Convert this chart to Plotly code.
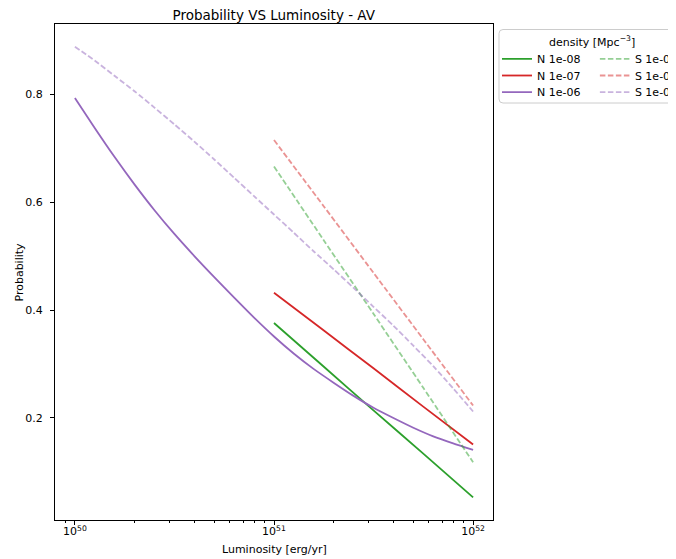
import plotly.graph_objects as go

# ---------------- data ----------------
lum_wide = [1.00e50, 1.26e50, 1.58e50, 2.00e50, 2.51e50, 3.16e50, 3.98e50, 5.01e50, 6.31e50, 7.94e50,
            1.00e51, 1.26e51, 1.58e51, 2.00e51, 2.51e51, 3.16e51, 3.98e51, 5.01e51, 6.31e51, 7.94e51,
            1.00e52]
lum_narrow = [1.00e51, 1.78e51, 3.16e51, 5.62e51, 1.00e52]

n_1e08 = [0.376, 0.295, 0.214, 0.134, 0.053]
n_1e07 = [0.432, 0.362, 0.292, 0.221, 0.151]
n_1e06 = [0.793, 0.737, 0.684, 0.632, 0.585, 0.541, 0.500, 0.461, 0.423, 0.386,
          0.351, 0.319, 0.291, 0.265, 0.241, 0.219, 0.200, 0.182, 0.166, 0.153, 0.141]

s_1e08 = [0.666, 0.529, 0.393, 0.256, 0.118]
s_1e07 = [0.715, 0.592, 0.469, 0.346, 0.223]
s_1e06 = [0.888, 0.862, 0.834, 0.805, 0.775, 0.744, 0.712, 0.679, 0.645, 0.611,
          0.577, 0.543, 0.509, 0.475, 0.441, 0.406, 0.371, 0.334, 0.296, 0.255, 0.212]

x_major = [1e50, 1e51, 1e52]
x_major_text = ["10<sup>50</sup>", "10<sup>51</sup>", "10<sup>52</sup>"]
x_minor = [9e49, 2e50, 3e50, 4e50, 5e50, 6e50, 7e50, 8e50, 9e50,
           2e51, 3e51, 4e51, 5e51, 6e51, 7e51, 8e51, 9e51]
y_ticks = [0.2, 0.4, 0.6, 0.8]

GREEN = "#2ca02c"
RED = "#d62728"
PURPLE = "#9467bd"
GREEN_A = "rgba(44,160,44,0.5)"
RED_A = "rgba(214,39,40,0.5)"
PURPLE_A = "rgba(148,103,189,0.5)"

FONT = "DejaVu Sans"
LW = 1.8
DASH = "5.5px,2.5px"

# ---------------- geometry (page body has an 8px margin) ----------------
W, H = 668, 551
L, R, T, B = 46.5, 485, 16, 512
pw, ph = R - L, B - T


def px_x(p):
    return (p - L) / pw


def px_y(p):
    return 1 - (p - T) / ph


fig = go.Figure()

# (name, x, y, colour, dash, legend id, legend left px, row centre px)
series = [
    ("N 1e-08", lum_narrow, n_1e08, GREEN, None, "legend", 489, 51.3),
    ("N 1e-07", lum_narrow, n_1e07, RED, None, "legend2", 489, 68.0),
    ("N 1e-06", lum_wide, n_1e06, PURPLE, None, "legend3", 489, 84.7),
    ("S 1e-08", lum_narrow, s_1e08, GREEN_A, DASH, "legend4", 587, 51.3),
    ("S 1e-07", lum_narrow, s_1e07, RED_A, DASH, "legend5", 587, 68.0),
    ("S 1e-06", lum_wide, s_1e06, PURPLE_A, DASH, "legend6", 587, 84.7),
]

legend_layouts = {}
for name, xs, ys, col, dash, leg, lx, rowy in series:
    fig.add_trace(go.Scatter(
        x=xs, y=ys, mode="lines", name=name, legend=leg,
        line=dict(color=col, width=LW, dash=dash, shape="spline", smoothing=0.6),
    ))
    legend_layouts[leg] = dict(
        x=px_x(lx), y=px_y(rowy - 15), xanchor="left", yanchor="top",
        bgcolor="rgba(0,0,0,0)", borderwidth=0,
        font=dict(size=11, color="black"), tracegroupgap=0,
    )

# legend frame (rounded rectangle) in paper coords
x0, x1 = px_x(491), px_x(720)
y0, y1 = px_y(21.5), px_y(95)
rx, ry = 4 / pw, 4 / ph
frame_path = (f"M {x0+rx},{y0} L {x1},{y0} L {x1},{y1} L {x0+rx},{y1} "
              f"Q {x0},{y1} {x0},{y1+ry} L {x0},{y0-ry} Q {x0},{y0} {x0+rx},{y0} Z")

fig.update_layout(
    width=W, height=H,
    margin=dict(l=L, r=W - R, t=T, b=H - B, autoexpand=False),
    paper_bgcolor="white", plot_bgcolor="white",
    font=dict(family=FONT, size=11, color="black"),
    title=dict(text="Probability VS Luminosity - AV", x=(L + pw / 2) / W, xanchor="center",
               y=1 - 7 / H, yanchor="middle", font=dict(size=13.5, color="black")),
    showlegend=True,
    shapes=[dict(type="path", xref="paper", yref="paper", path=frame_path,
                 line=dict(color="#cccccc", width=1), fillcolor="rgba(255,255,255,0.8)",
                 layer="below")],
    annotations=[
        dict(text="density [Mpc<sup>−3</sup>]", xref="paper", yref="paper",
             x=px_x(584), y=px_y(33.7), xanchor="center", yanchor="middle",
             showarrow=False, font=dict(size=11, color="black")),
        dict(text="Luminosity [erg/yr]", xref="paper", yref="paper",
             x=0.5, y=px_y(541), xanchor="center", yanchor="middle",
             showarrow=False, font=dict(size=11, color="black")),
        dict(text="Probability", xref="paper", yref="paper", textangle=-90,
             x=px_x(10), y=0.5, xanchor="center", yanchor="middle",
             showarrow=False, font=dict(size=11, color="black")),
    ],
    **legend_layouts,
)

fig.update_xaxes(
    type="log", range=[49.9, 52.1],
    tickvals=x_major, ticktext=x_major_text,
    showgrid=False, zeroline=False,
    showline=True, linecolor="black", linewidth=1, mirror=True,
    ticks="outside", ticklen=4, tickwidth=1, tickcolor="black",
    ticklabelstandoff=-3,
    tickfont=dict(size=11, color="black"),
    minor=dict(tickvals=x_minor, ticks="outside", ticklen=2, tickwidth=1,
               tickcolor="black", showgrid=False),
)
fig.update_yaxes(
    range=[0.011, 0.930],
    tickvals=y_ticks, ticktext=[f"{v:.1f}" for v in y_ticks],
    showgrid=False, zeroline=False,
    showline=True, linecolor="black", linewidth=1, mirror=True,
    ticks="outside", ticklen=4, tickwidth=1, tickcolor="black",
    ticklabelstandoff=5,
    tickfont=dict(size=11, color="black"),
)

fig.write_html("out.html")
